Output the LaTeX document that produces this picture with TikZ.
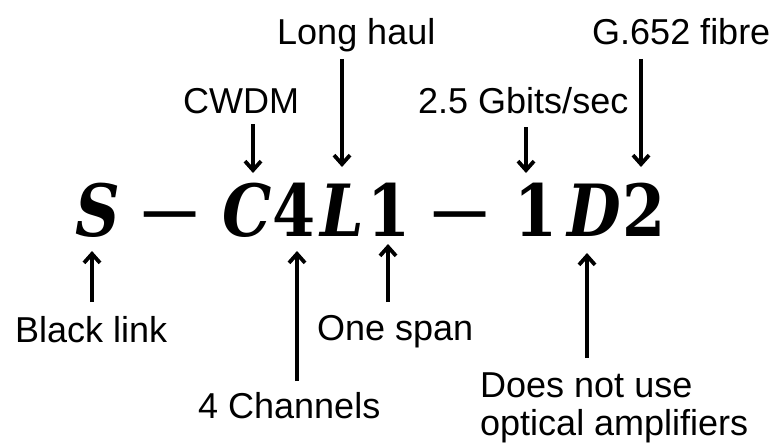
\documentclass[tikz,border=0pt]{standalone}
\usepackage{fontspec}
\setmainfont{Liberation Sans}
\newfontfamily\formfont{DejaVu Serif}
\usetikzlibrary{arrows.meta}
\newcommand{\narrowglyph}[1]{\scalebox{0.86}[1]{#1}}
\newcommand{\wideminus}{\scalebox{1.18}[1.0]{−}}
\begin{document}
\begin{tikzpicture}[x=1pt,y=-1pt,
  lbl/.style={font=\fontsize{36}{40}\selectfont, inner sep=0pt, anchor=base west},
  sym/.style={font=\formfont\fontsize{72}{80}\selectfont\bfseries\itshape, inner sep=0pt, anchor=base},
  dig/.style={font=\formfont\fontsize{72}{80}\selectfont\bfseries, inner sep=0pt, anchor=base},
  op/.style={font=\formfont\fontsize{70}{74}\selectfont, inner sep=0pt, anchor=base},
  arr/.style={line width=3.8pt, -{Straight Barb[length=9pt,width=16pt]}}]
\useasboundingbox (0,0) rectangle (773,444);
% formula
\node[sym] (s)  at (98,236) {\narrowglyph{S}};
\node[op]  (m1) at (170,236) {\wideminus};
\node[sym] (c)  at (247,236) {\narrowglyph{C}};
\node[dig] (n4) at (294,236) {\narrowglyph{4}};
\node[sym] (l)  at (342,236) {\narrowglyph{L}};
\node[dig] (n1) at (389,236) {\narrowglyph{1}};
\node[op]  (m2) at (460,236) {\wideminus};
\node[dig] (n1b) at (536,236) {\narrowglyph{1}};
\node[sym] (d)  at (594,236) {\narrowglyph{D}};
\node[dig] (n2) at (644,236) {\narrowglyph{2}};
% labels
\node[lbl] (long) at (277,45) {Long haul};
\node[lbl] (g652) at (592,45) {G.652 fibre};
\node[lbl] (cwdm) at (183,113) {CWDM};
\node[lbl] (rate) at (418,113) {2.5 Gbits/sec};
\node[lbl] (black) at (15,342) {Black link};
\node[lbl] (span) at (317,340) {One span};
\node[lbl] (chan) at (198,418) {4 Channels};
\node[lbl] (amp1) at (480,397) {Does not use};
\node[lbl] (amp2) at (480,435) {optical amplifiers};
% arrow ends
\coordinate (cwdmA) at (253,124); \coordinate (cwdmB) at (253,173);
\coordinate (longA) at (342,59);  \coordinate (longB) at (342,167);
\coordinate (rateA) at (526,127); \coordinate (rateB) at (526,173);
\coordinate (gA) at (641,59);     \coordinate (gB) at (641,167);
\coordinate (blackA) at (92,302); \coordinate (blackB) at (92,251);
\coordinate (chanA) at (297,381); \coordinate (chanB) at (297,251);
\coordinate (spanA) at (388,302); \coordinate (spanB) at (388,244);
\coordinate (ampA) at (587,358);  \coordinate (ampB) at (587,253);
\draw[arr] (cwdmA) -- (cwdmB);
\draw[arr] (longA) -- (longB);
\draw[arr] (rateA) -- (rateB);
\draw[arr] (gA) -- (gB);
\draw[arr] (blackA) -- (blackB);
\draw[arr] (chanA) -- (chanB);
\draw[arr] (spanA) -- (spanB);
\draw[arr] (ampA) -- (ampB);
\end{tikzpicture}
\end{document}
